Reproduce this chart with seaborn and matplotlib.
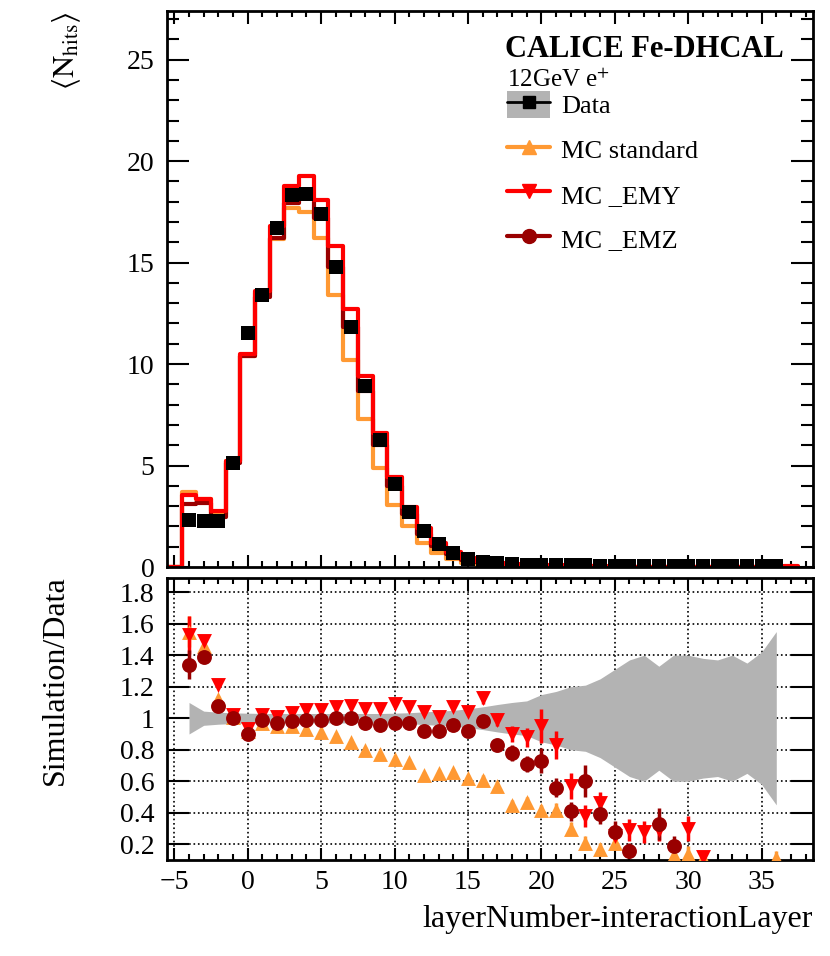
import numpy as np
import pandas as pd
import matplotlib
matplotlib.use("Agg")
import matplotlib.pyplot as plt
import seaborn as sns
from matplotlib.lines import Line2D
from matplotlib.patches import Patch
from matplotlib.legend_handler import HandlerTuple
from matplotlib.ticker import MultipleLocator, FixedLocator, FuncFormatter

nan = np.nan

# bins of layerNumber - interactionLayer
mc_layers = list(range(-5, 38))
data_layers = list(range(-4, 37))

# <N_hits> per layer, data
data_hits = [2.33, 2.25, 2.28, 5.13, 11.53, 13.40, 16.70, 18.33, 18.37, 17.38,
             14.80, 11.85, 8.93, 6.24, 4.11, 2.69, 1.75, 1.14, 0.68, 0.38,
             0.25, 0.18, 0.14, 0.12, 0.10, 0.09, 0.08, 0.08, 0.07, 0.07,
             0.06, 0.06, 0.06, 0.05, 0.05, 0.05, 0.05, 0.04, 0.04, 0.04, 0.04]

# <N_hits> per layer, simulations
mc_standard = [0.0, 3.68, 3.35, 2.62, 5.20, 10.40, 13.50, 16.15, 17.70, 17.50,
               16.20, 13.40, 10.20, 7.28, 4.90, 3.07, 2.00, 1.19, 0.69, 0.40,
               0.22, 0.15, 0.10, 0.06, 0.05, 0.04, 0.035, 0.025, 0.02, 0.012,
               0.012, 0.008, 0.006, 0.005, 0.006, 0.006, 0.005, 0.004, 0.004, 0.004,
               0.004, 0.004, 0.0]
mc_emy = [0.0, 3.56, 3.37, 2.74, 5.22, 10.50, 13.60, 16.80, 18.80, 19.25,
          18.10, 15.80, 12.70, 9.40, 6.60, 4.45, 2.94, 1.90, 1.20, 0.75,
          0.42, 0.28, 0.18, 0.13, 0.11, 0.09, 0.075, 0.045, 0.03, 0.032,
          0.018, 0.017, 0.017, 0.017, 0.008, 0.015, 0.006, 0.005, 0.005, 0.005,
          0.005, 0.005, 0.03]
mc_emz = [0.0, 3.12, 3.13, 2.46, 5.13, 10.38, 13.30, 16.20, 17.96, 18.20,
          17.20, 14.80, 11.85, 8.66, 6.00, 4.00, 2.60, 1.61, 1.05, 0.65,
          0.35, 0.245, 0.15, 0.11, 0.085, 0.073, 0.05, 0.033, 0.048, 0.027,
          0.02, 0.01, 0.005, 0.02, 0.01, 0.005, 0.005, 0.004, 0.004, 0.004,
          0.004, 0.004, 0.0]

# relative data uncertainty (grey band in ratio)
data_relerr = [0.10, 0.045, 0.038, 0.034, 0.032, 0.030, 0.030, 0.030, 0.030, 0.030,
               0.030, 0.030, 0.030, 0.030, 0.032, 0.035, 0.040, 0.045, 0.050, 0.060,
               0.072, 0.087, 0.10, 0.11, 0.15, 0.17, 0.20, 0.21, 0.25, 0.31,
               0.37, 0.40, 0.33, 0.40, 0.40, 0.38, 0.37, 0.40, 0.35, 0.42, 0.55]

# simulation / data
ratio_standard = [1.55, 1.46, 1.12, 1.01, 0.92, 0.97, 0.95, 0.95, 0.93, 0.91,
                  0.89, 0.85, 0.80, 0.77, 0.74, 0.72, 0.64, 0.65, 0.66, 0.62,
                  0.61, 0.57, 0.45, 0.47, 0.42, 0.42, 0.30, 0.21, 0.17, 0.21,
                  nan, nan, nan, 0.13, 0.14, 0.11, nan, nan, nan, nan, 0.11]
ratio_emy = [1.53, 1.49, 1.21, 1.02, 0.93, 1.02, 1.01, 1.03, 1.05, 1.05,
             1.07, 1.08, 1.06, 1.06, 1.09, 1.07, 1.04, 1.01, 1.07, 1.04,
             1.13, 0.99, 0.90, 0.88, 0.95, 0.83, 0.57, 0.38, 0.46, 0.25,
             0.29, 0.28, 0.29, nan, 0.30, 0.12, nan, nan, nan, nan, nan]
ratio_emz = [1.34, 1.39, 1.08, 1.00, 0.90, 0.99, 0.97, 0.98, 0.99, 0.99,
             1.00, 1.00, 0.97, 0.96, 0.97, 0.97, 0.92, 0.92, 0.96, 0.92,
             0.98, 0.83, 0.78, 0.71, 0.73, 0.56, 0.41, 0.60, 0.39, 0.28,
             0.16, nan, 0.33, 0.19, nan, nan, nan, nan, nan, nan, nan]

err_standard = [0.10, 0.04, 0.02, 0.02, 0.02, 0.015, 0.015, 0.015, 0.015, 0.015,
                0.015, 0.015, 0.015, 0.015, 0.015, 0.02, 0.02, 0.02, 0.02, 0.02,
                0.03, 0.03, 0.03, 0.03, 0.03, 0.04, 0.04, 0.04, 0.04, 0.04,
                0.05, 0.05, 0.05, 0.05, 0.05, 0.05, 0.05, 0.05, 0.05, 0.05, 0.05]
err_emy = [0.12, 0.04, 0.02, 0.02, 0.02, 0.015, 0.015, 0.015, 0.015, 0.015,
           0.015, 0.015, 0.015, 0.015, 0.015, 0.02, 0.02, 0.02, 0.02, 0.02,
           0.04, 0.04, 0.05, 0.06, 0.11, 0.09, 0.08, 0.07, 0.07, 0.07,
           0.07, 0.07, 0.07, 0.07, 0.08, 0.04, 0.05, 0.05, 0.05, 0.05, 0.05]
err_emz = [0.09, 0.03, 0.02, 0.02, 0.02, 0.015, 0.015, 0.015, 0.015, 0.015,
           0.015, 0.015, 0.015, 0.015, 0.015, 0.02, 0.02, 0.02, 0.02, 0.02,
           0.03, 0.04, 0.05, 0.05, 0.08, 0.06, 0.06, 0.10, 0.06, 0.07,
           0.05, 0.06, 0.10, 0.06, 0.06, 0.06, 0.06, 0.06, 0.06, 0.06, 0.06]

ratio_ticks = [0.2, 0.4, 0.6, 0.8, 1.0, 1.2, 1.4, 1.6, 1.8]

labels = ["Data", "MC standard", "MC _EMY", "MC _EMZ"]
c_std = "#ff9933"
c_emy = "#ff0000"
c_emz = "#990000"
c_band = "#b3b3b3"

sns.set_theme(style="ticks")
plt.rcParams["font.family"] = ["Liberation Serif", "DejaVu Serif"]
plt.rcParams["mathtext.fontset"] = "stix"
plt.rcParams["axes.linewidth"] = 2.0
plt.rcParams["axes.edgecolor"] = "black"
plt.rcParams["xtick.color"] = "black"
plt.rcParams["ytick.color"] = "black"
plt.rcParams["text.color"] = "black"
plt.rcParams["axes.labelcolor"] = "black"

mc = pd.DataFrame({"layer": mc_layers, "standard": mc_standard,
                   "emy": mc_emy, "emz": mc_emz})
ratio = pd.DataFrame({"layer": data_layers, "hits": data_hits,
                      "band": data_relerr,
                      "standard": ratio_standard, "emy": ratio_emy, "emz": ratio_emz,
                      "e_standard": err_standard, "e_emy": err_emy, "e_emz": err_emz})
edges = list(np.arange(-5.5, 38.0, 1.0))

fig = plt.figure(figsize=(8.3, 9.56), dpi=100)
ax1 = fig.add_axes([0.2012, 0.4069, 0.7783, 0.5816])
ax2 = fig.add_axes([0.2012, 0.1004, 0.7783, 0.2950])

# ---- top panel: mean hits per layer
for col, color in [("standard", c_std), ("emz", c_emz), ("emy", c_emy)]:
    sns.histplot(data=mc, x="layer", weights=col, bins=edges, element="step",
                 fill=False, color=color, linewidth=3, ax=ax1)
sns.scatterplot(data=ratio, x="layer", y="hits", marker="s", color="black",
                s=115, linewidth=0, ax=ax1, zorder=5)

ax1.set_xlim(-5.5, 38.5)
ax1.set_ylim(0, 27.4)
ax1.xaxis.set_major_locator(MultipleLocator(5))
ax1.xaxis.set_minor_locator(MultipleLocator(1))
ax1.yaxis.set_major_locator(MultipleLocator(5))
ax1.yaxis.set_minor_locator(MultipleLocator(1))
ax1.tick_params(axis="both", which="both", direction="in", top=True, right=True,
                labelsize=20, width=1.5)
ax1.tick_params(axis="x", which="major", length=9, labelbottom=False)
ax1.tick_params(axis="x", which="minor", length=4.5)
ax1.tick_params(axis="y", which="major", length=16, pad=9)
ax1.tick_params(axis="y", which="minor", length=8.5)
ax1.set_xlabel("")
ax1.set_ylabel(r"$\langle\mathrm{N}_{\mathrm{hits}}\rangle$", fontsize=22, loc="top")
ax1.yaxis.set_label_coords(-0.130, 1.0)

ax1.text(0.523, 0.917, "CALICE Fe-DHCAL", transform=ax1.transAxes,
         fontsize=22, fontweight="bold", va="baseline")
ax1.text(0.526, 0.863, r"12GeV e$^{+}$", transform=ax1.transAxes,
         fontsize=18, va="baseline")

h_data = (Patch(facecolor=c_band, edgecolor="none"),
          Line2D([], [], color="black", marker="s", markersize=9, linewidth=2))
h_std = Line2D([], [], color=c_std, marker="^", markersize=10, linewidth=3)
h_emy = Line2D([], [], color=c_emy, marker="v", markersize=10, linewidth=3)
h_emz = Line2D([], [], color=c_emz, marker="o", markersize=10, linewidth=3)
ax1.legend(handles=[h_data, h_std, h_emy, h_emz], labels=labels,
           handler_map={tuple: HandlerTuple(ndivide=1, pad=0)},
           loc="upper left", bbox_to_anchor=(0.526, 0.857), frameon=False,
           fontsize=19, borderpad=0, borderaxespad=0, handlelength=1.65,
           handleheight=1.2, handletextpad=0.4, labelspacing=0.66)

# ---- ratio panel
ax2.fill_between(ratio["layer"], 1 - ratio["band"], 1 + ratio["band"],
                 color=c_band, linewidth=0, zorder=1)
for col, color, mk, size in [("standard", c_std, "^", 115),
                             ("emy", c_emy, "v", 115),
                             ("emz", c_emz, "o", 115)]:
    ax2.errorbar(ratio["layer"], ratio[col], yerr=ratio["e_" + col], fmt="none",
                 ecolor=color, elinewidth=2.5, zorder=3)
    sns.scatterplot(data=ratio, x="layer", y=col, marker=mk, color=color, s=size,
                    linewidth=0, ax=ax2, zorder=4)

ax2.set_xlim(-5.5, 38.5)
ax2.set_ylim(0.1, 1.89)
ax2.xaxis.set_major_locator(MultipleLocator(5))
ax2.xaxis.set_minor_locator(MultipleLocator(1))
ax2.yaxis.set_major_locator(FixedLocator(ratio_ticks))
ax2.yaxis.set_major_formatter(FuncFormatter(lambda v, p: "%g" % round(v, 2)))
ax2.set_axisbelow(True)
ax2.grid(True, which="major", linestyle=":", color="black", linewidth=1.2)
ax2.tick_params(axis="both", which="both", direction="in", top=True, right=True,
                labelsize=20, width=1.5)
ax2.tick_params(axis="x", which="major", length=9, pad=7)
ax2.tick_params(axis="x", which="minor", length=4.5)
ax2.tick_params(axis="y", which="major", length=16, pad=9)
ax2.set_xlabel("layerNumber-interactionLayer", fontsize=23, loc="right", labelpad=7)
ax2.set_ylabel("Simulation/Data", fontsize=23, loc="top")
ax2.yaxis.set_label_coords(-0.150, 1.01)

fig.savefig("out.png", dpi=100)
